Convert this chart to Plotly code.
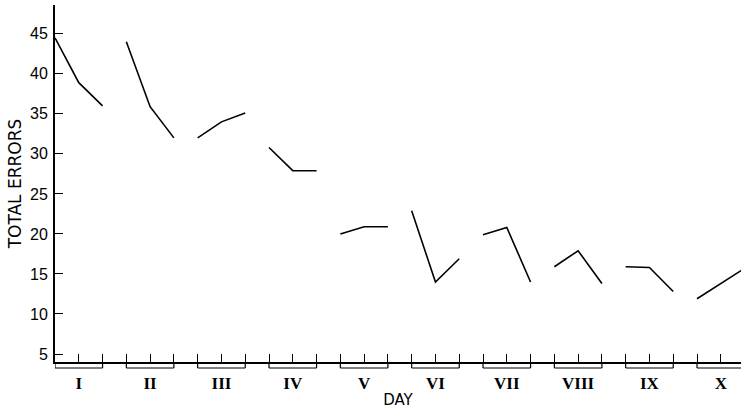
import plotly.graph_objects as go

days = ["I", "II", "III", "IV", "V", "VI", "VII", "VIII", "IX", "X"]
errors = [
    [44.5, 38.9, 36.0],
    [44.0, 35.9, 32.0],
    [32.0, 34.0, 35.1],
    [30.8, 27.9, 27.9],
    [20.0, 20.9, 20.9],
    [22.9, 14.0, 16.9],
    [19.9, 20.8, 14.0],
    [15.9, 17.9, 13.8],
    [15.9, 15.8, 12.8],
    [11.9, 13.8, 15.7],
]
y_ticks = [5, 10, 15, 20, 25, 30, 35, 40, 45]

xs, ys = [], []
for d, vals in enumerate(errors):
    for j, v in enumerate(vals):
        xs.append(3 * d + j)
        ys.append(v)
    xs.append(None)
    ys.append(None)

fig = go.Figure()
fig.add_trace(go.Scatter(x=xs, y=ys, mode="lines", connectgaps=False,
                         line=dict(color="black", width=1.6), showlegend=False,
                         hoverinfo="skip"))

plot_h = 409 - 5 - 47
br = 6 / plot_h
shapes = []
for d in range(len(days)):
    a, b = 3 * d, 3 * d + 2
    shapes.append(dict(type="line", xref="x", yref="paper", x0=a, x1=b, y0=-br, y1=-br,
                       line=dict(color="black", width=1.2)))
    for xv in (a, b):
        shapes.append(dict(type="line", xref="x", yref="paper", x0=xv, x1=xv, y0=-br, y1=0,
                           line=dict(color="black", width=1.2)))

fig.update_layout(
    width=741, height=409,
    margin=dict(l=55, r=0, t=5, b=47),
    paper_bgcolor="white", plot_bgcolor="white",
    shapes=shapes,
    xaxis=dict(
        range=[0, 28.85], showgrid=False, zeroline=False, automargin=False,
        showline=True, linecolor="black", linewidth=2,
        tickmode="array", tickvals=[3 * d + 1 for d in range(len(days))],
        ticktext=["<b>" + t + "</b>" for t in days],
        ticks="inside", ticklen=8, tickcolor="black", tickwidth=1,
        minor=dict(tickvals=list(range(0, 30)), ticks="inside", ticklen=8,
                   tickcolor="black", tickwidth=1),
        tickfont=dict(family="Liberation Serif", size=17, color="black"),
        ticklabelstandoff=5,
        title=dict(text="DAY", font=dict(family="DejaVu Sans", size=15, color="black"),
                   standoff=3),
    ),
    yaxis=dict(
        range=[4, 48.6], showgrid=False, zeroline=False, automargin=False,
        showline=True, linecolor="black", linewidth=2,
        tickmode="array", tickvals=y_ticks,
        ticks="inside", ticklen=8, tickcolor="black", tickwidth=1,
        tickfont=dict(family="Liberation Sans", size=16, color="black"),
        ticklabelstandoff=2,
        title=dict(text="TOTAL ERRORS", font=dict(family="DejaVu Sans", size=17, color="black"),
                   standoff=4),
    ),
)

fig.write_html("out.html", config={"displayModeBar": False},
               post_script="document.body.style.margin='0';")
